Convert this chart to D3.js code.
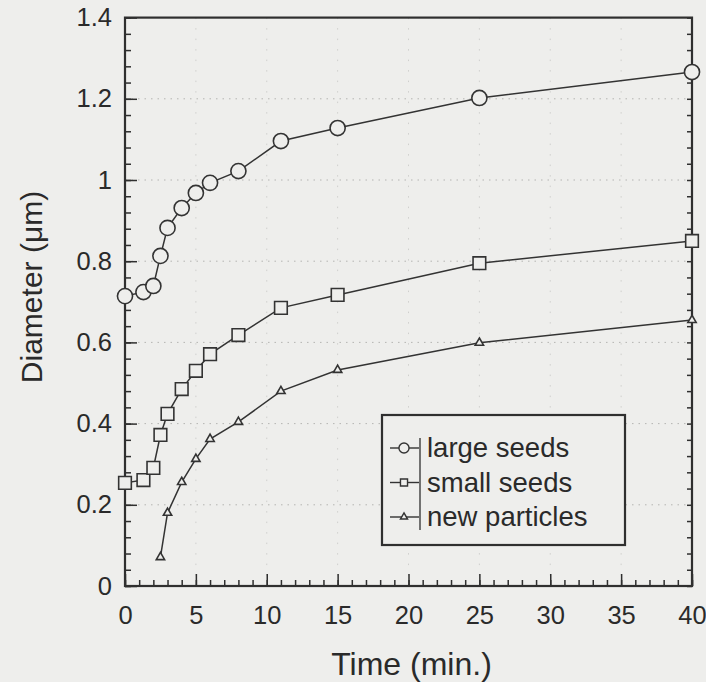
<!DOCTYPE html>
<html>
<head>
<meta charset="utf-8">
<script src="https://cdn.jsdelivr.net/npm/d3@7"></script>
<style>
  html, body { margin: 0; padding: 0; background: #eeeeec; }
  svg { display: block; }
  text { font-family: "Liberation Sans", Arial, Helvetica, sans-serif; fill: #2a2a2a; }
</style>
</head>
<body>
<svg id="chart" width="706" height="682"></svg>
<script>
// Particle diameter growth over time
const largeTime  = [0, 1.3, 2, 2.5, 3, 4, 5, 6, 8, 11, 15, 25, 40];
const largeDiam  = [0.714, 0.724, 0.739, 0.813, 0.882, 0.931, 0.968, 0.993, 1.022, 1.096, 1.128, 1.202, 1.266];
const smallTime  = [0, 1.3, 2, 2.5, 3, 4, 5, 6, 8, 11, 15, 25, 40];
const smallDiam  = [0.254, 0.261, 0.291, 0.372, 0.424, 0.485, 0.530, 0.571, 0.618, 0.685, 0.717, 0.795, 0.850];
const newTime    = [2.5, 3, 4, 5, 6, 8, 11, 15, 25, 40];
const newDiam    = [0.071, 0.180, 0.256, 0.313, 0.362, 0.404, 0.480, 0.532, 0.599, 0.655];

const seriesNames = ["large seeds", "small seeds", "new particles"];
const xTicks = [0, 5, 10, 15, 20, 25, 30, 35, 40];
const yTicks = [0, 0.2, 0.4, 0.6, 0.8, 1, 1.2, 1.4];
const xLabel = "Time (min.)";
const yLabel = "Diameter (\u03bcm)";

const ink = "#2f2f2f";
const bg = "#eeeeec";

const svg = d3.select("#chart");
const plotLeft = 125, plotRight = 692, plotTop = 17.6, plotBottom = 586;

const x = d3.scaleLinear().domain([0, 40]).range([plotLeft, plotRight]);
const y = d3.scaleLinear().domain([0, 1.4]).range([plotBottom, plotTop]);

// faint dotted grid
const grid = svg.append("g").attr("stroke-width", 1).attr("stroke-dasharray", "1.5,5");
grid.selectAll("line.h").data(yTicks.filter(v => v > 0 && v < 1.4)).join("line")
  .attr("class", "h").attr("stroke", "#b4b4b2")
  .attr("x1", plotLeft).attr("x2", plotRight).attr("y1", d => y(d)).attr("y2", d => y(d));
grid.selectAll("line.v").data(xTicks.filter(v => v > 0 && v < 40)).join("line")
  .attr("class", "v").attr("stroke", "#cfcfcd").attr("stroke-dasharray", "1.5,9")
  .attr("y1", plotTop).attr("y2", plotBottom).attr("x1", d => x(d)).attr("x2", d => x(d));

// axes: ticks pointing inward
const minorY = d3.range(0, 1.4001, 0.04);
const minorX = d3.range(0, 40.001, 1);

const yAxisL = d3.axisLeft(y).tickValues(yTicks).tickSize(-12).tickPadding(13)
  .tickFormat(d => String(+d.toFixed(1)));
const gyl = svg.append("g").attr("transform", `translate(${plotLeft},0)`).call(yAxisL);
const xAxisB = d3.axisBottom(x).tickValues(xTicks).tickSize(-12).tickPadding(20)
  .tickFormat(d3.format("d"));
const gxb = svg.append("g").attr("transform", `translate(0,${plotBottom})`).call(xAxisB);

const minorYL = svg.append("g").attr("transform", `translate(${plotLeft},0)`)
  .call(d3.axisLeft(y).tickValues(minorY).tickSize(-6).tickFormat(""));
const minorXB = svg.append("g").attr("transform", `translate(0,${plotBottom})`)
  .call(d3.axisBottom(x).tickValues(minorX).tickSize(-6).tickFormat(""));
const gyr = svg.append("g").attr("transform", `translate(${plotRight},0)`)
  .call(d3.axisRight(y).tickValues(minorY).tickSize(-5).tickFormat(""));

[gyl, gxb, minorYL, minorXB, gyr].forEach(g => {
  g.select(".domain").remove();
  g.selectAll("line").attr("stroke", ink).attr("stroke-width", 1.5);
  g.selectAll("text").attr("font-size", 25.5).attr("fill", "#2a2a2a")
    .style("font-family", "'Liberation Sans', Arial, sans-serif");
});

// frame
svg.append("rect").attr("x", plotLeft).attr("y", plotTop)
  .attr("width", plotRight - plotLeft).attr("height", plotBottom - plotTop)
  .attr("fill", "none").attr("stroke", ink).attr("stroke-width", 2.2);

// axis titles
svg.append("text").attr("x", (plotLeft + plotRight) / 2 + 3).attr("y", 675)
  .attr("text-anchor", "middle").attr("font-size", 32).text(xLabel);
svg.append("text").attr("transform", `translate(42,287) rotate(-90)`)
  .attr("text-anchor", "middle").attr("font-size", 30).text(yLabel);

// series
const series = [
  { t: largeTime, d: largeDiam, shape: d3.symbolCircle, size: 180, lsize: 80 },
  { t: smallTime, d: smallDiam, shape: d3.symbolSquare, size: 160, lsize: 50 },
  { t: newTime,   d: newDiam,   shape: d3.symbolTriangle, size: 30, lsize: 22 }
];

const line = d3.line().x(p => x(p[0])).y(p => y(p[1]));

series.forEach(s => {
  const pts = s.t.map((t, i) => [t, s.d[i]]);
  svg.append("path").datum(pts).attr("d", line)
    .attr("fill", "none").attr("stroke", "#333").attr("stroke-width", 1.5);
  svg.append("g").selectAll("path").data(pts).join("path")
    .attr("transform", p => `translate(${x(p[0])},${y(p[1])})`)
    .attr("d", d3.symbol().type(s.shape).size(s.size))
    .attr("fill", bg).attr("stroke", "#333").attr("stroke-width", 1.6);
});

// legend
const lg = svg.append("g");
lg.append("rect").attr("x", 382).attr("y", 415).attr("width", 243).attr("height", 130)
  .attr("fill", bg).attr("stroke", ink).attr("stroke-width", 2.2);
lg.append("line").attr("x1", 420).attr("x2", 420).attr("y1", 438).attr("y2", 530)
  .attr("stroke", ink).attr("stroke-width", 1.3);
seriesNames.forEach((name, i) => {
  const cy = 448 + i * 34.5;
  lg.append("line").attr("x1", 390).attr("x2", 419).attr("y1", cy).attr("y2", cy)
    .attr("stroke", "#333").attr("stroke-width", 1.4);
  lg.append("path").attr("transform", `translate(404,${cy})`)
    .attr("d", d3.symbol().type(series[i].shape).size(series[i].lsize))
    .attr("fill", bg).attr("stroke", "#333").attr("stroke-width", 1.4);
  lg.append("text").attr("x", 427).attr("y", cy + 9).attr("font-size", 27.5)
    .text(name);
});
</script>
</body>
</html>
